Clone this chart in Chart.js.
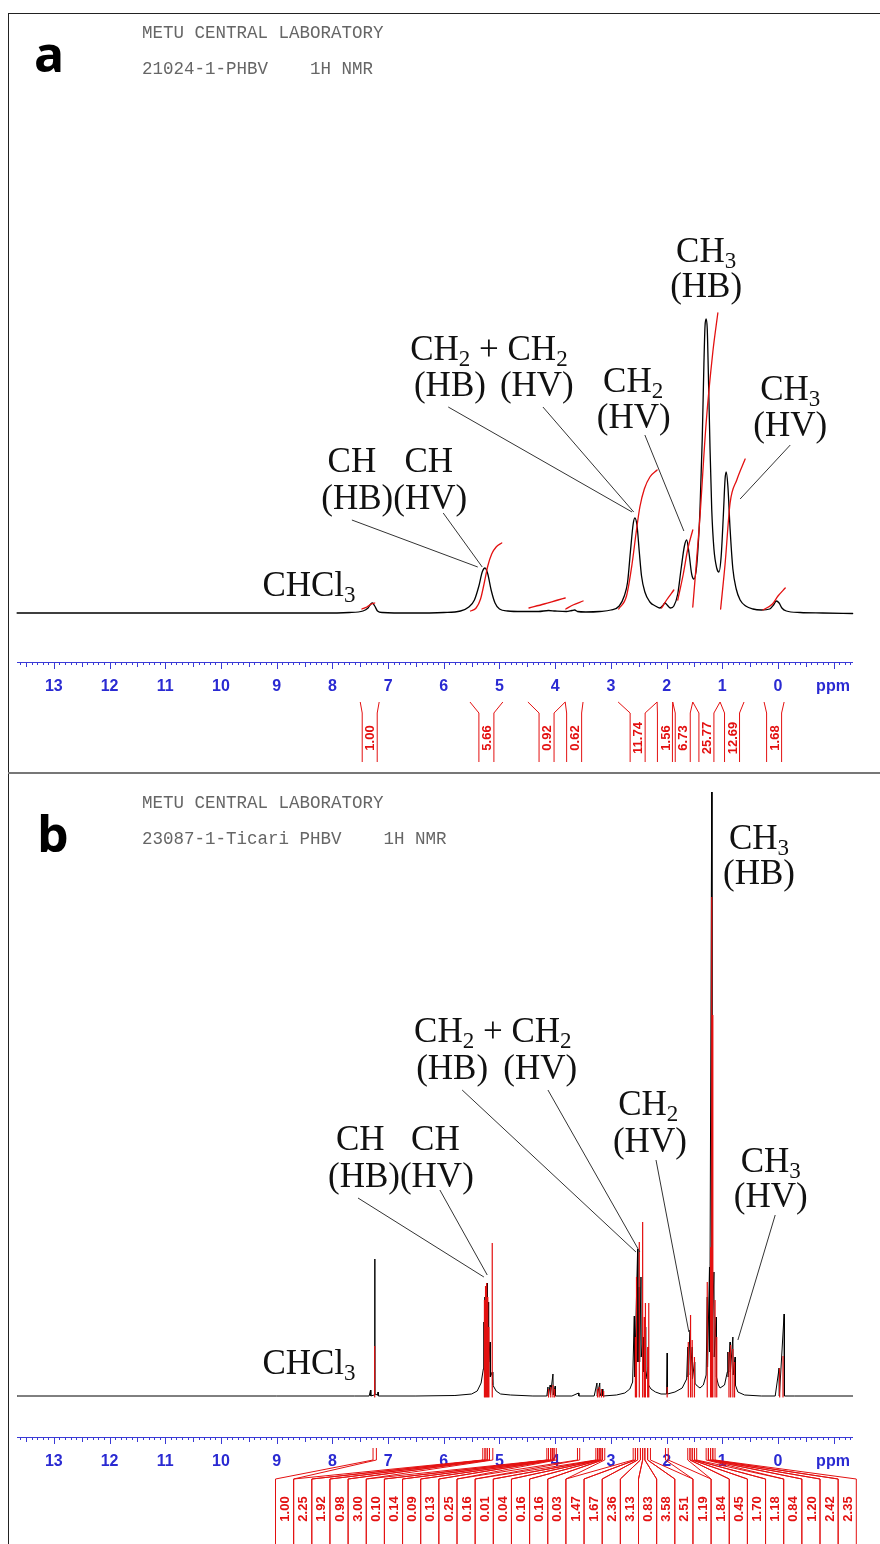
<!DOCTYPE html>
<html>
<head>
<meta charset="utf-8">
<script src="https://cdn.jsdelivr.net/npm/chart.js@4.4.1/dist/chart.umd.min.js"></script>
<style>
  body { margin: 0; background: #fff; }
  #page { position: relative; width: 880px; height: 1544px; overflow: hidden; background: #fff; }
  canvas { position: absolute; left: 0; }
  #specA { top: 0; }
  #specB { top: 775px; }
  .rule { position: absolute; background: #222; z-index: 5; }
</style>
</head>
<body>
<div id="page">
  <canvas id="specA" width="880" height="772"></canvas>
  <canvas id="specB" width="880" height="769"></canvas>
  <div class="rule" style="left:8px;top:13px;width:872px;height:1px;"></div>
  <div class="rule" style="left:8px;top:13px;width:1px;height:1531px;"></div>
  <div class="rule" style="left:8px;top:772px;width:872px;height:2px;background:#777;"></div>
</div>
<script>
// ---------- spectrum a (ppm, intensity) ----------
var specA = [
  [13.66,1],[12,1],[10,1],[8.2,1],[7.7,1.5],[7.45,3],[7.36,6],[7.31,10],[7.28,11],[7.24,8],[7.19,3],[7.1,1.5],
  [6.6,1],[6.0,1.5],[5.7,3],[5.55,7],[5.45,14],[5.37,28],[5.31,42],[5.26,46],[5.21,40],[5.15,24],[5.08,11],[5.0,5],
  [4.85,3],[4.6,2.5],[4.3,2.5],[4.12,3.5],[4.0,3],[3.8,2.5],[3.7,3.5],[3.65,4],[3.6,2.5],[3.45,2],[3.2,2.5],[3.0,4],
  [2.85,8],[2.76,18],[2.70,32],[2.65,62],[2.60,90],[2.57,96],[2.53,88],[2.49,62],[2.45,38],[2.39,22],[2.30,12],[2.20,8],
  [2.12,6],[2.06,9],[2.03,11],[1.99,9],[1.93,6],[1.87,8],[1.80,20],[1.74,45],[1.68,68],[1.64,74],[1.60,62],[1.55,40],
  [1.51,35],[1.46,48],[1.40,105],[1.36,175],[1.33,250],[1.31,288],[1.29,295],[1.27,285],[1.25,240],[1.22,165],[1.19,105],
  [1.15,65],[1.10,46],[1.06,42],[1.02,58],[0.98,100],[0.95,135],[0.93,142],[0.90,128],[0.86,85],[0.81,45],[0.75,25],
  [0.68,14],[0.58,8],[0.45,5],[0.30,4],[0.15,5],[0.08,9],[0.03,13],[-0.02,11],[-0.07,6],[-0.15,3],[-0.4,1.5],[-0.8,1],[-1.34,0.5]
];

// integral traces a
var integA1 = [[7.47,5],[7.38,7],[7.30,10],[7.24,11]];
var integA2 = [[5.52,3],[5.42,6],[5.34,15],[5.27,32],[5.21,48],[5.14,60],[5.06,67],[4.96,71]];
var integA3 = [[4.47,6],[4.2,10],[3.95,14],[3.82,16]];
var integA4 = [[3.81,5],[3.68,9],[3.50,13]];
var integA5 = [[2.86,5],[2.72,18],[2.62,50],[2.55,80],[2.48,107],[2.40,125],[2.30,137],[2.17,144]];
var integA6 = [[2.09,6],[2.0,14],[1.87,24]];
var integA7 = [[1.80,14],[1.70,40],[1.62,65],[1.53,84]];
var integA8 = [[1.53,7],[1.41,90],[1.29,191],[1.17,262],[1.08,301]];
var integA9 = [[1.03,5],[0.95,50],[0.86,111],[0.74,134],[0.59,155]];
var integA10 = [[0.27,4],[0.1,10],[0.0,18],[-0.13,26]];

var intLabelsA = ['1.00','5.66','0.92','0.62','11.74','1.56','6.73','25.77','12.69','1.68'];
var intRangesA = [[7.50,7.16],[5.53,4.94],[4.49,3.82],[3.82,3.50],[2.87,2.17],[2.17,1.89],[1.89,1.53],[1.53,1.04],[1.04,0.61],[0.25,-0.11]];

// ---------- spectrum b ----------
var specB = [
  [13.66,1],[9,1],[7.6,1],[7.34,1],[7.315,7],[7.31,1],[7.25,2],[7.24,138],[7.235,3],[7.19,2],[7.18,5],[7.175,1],[6.5,1],
  [5.8,1.5],[5.5,3],[5.40,6],[5.33,14],[5.29,28],[5.28,75],[5.275,28],[5.26,100],[5.255,40],[5.24,110],[5.235,45],
  [5.22,114],[5.215,45],[5.20,95],[5.195,35],[5.17,55],[5.165,20],[5.13,25],[5.12,12],[5.06,6],[4.98,3],[4.8,2],[4.4,1],
  [4.15,1],[4.13,10],[4.125,1],[4.09,12],[4.085,2],[4.04,23],[4.035,2],[4.00,11],[3.995,1],[3.7,1],[3.58,4],[3.575,1],
  [3.30,1],[3.25,14],[3.245,1],[3.20,14],[3.195,1],[3.15,8],[3.145,1],[2.9,2],[2.75,4],[2.66,8],[2.61,15],[2.58,81],
  [2.575,20],[2.52,148],[2.515,35],[2.49,110],[2.485,35],[2.46,120],[2.455,40],[2.42,60],[2.415,25],[2.38,70],[2.375,18],
  [2.33,30],[2.325,12],[2.28,8],[2.2,5],[2.1,3],[2.0,3],[1.99,44],[1.985,3],[1.85,5],[1.72,9],[1.64,18],[1.62,50],
  [1.615,20],[1.58,67],[1.575,22],[1.54,50],[1.535,18],[1.50,35],[1.495,14],[1.45,11],[1.40,9],[1.34,12],[1.29,22],
  [1.27,100],[1.265,30],[1.23,130],[1.225,45],[1.19,605],[1.185,60],[1.15,125],[1.145,40],[1.11,80],[1.105,20],[1.07,12],
  [1.04,9],[0.96,12],[0.91,25],[0.90,45],[0.895,20],[0.86,55],[0.855,25],[0.81,60],[0.805,22],[0.77,40],[0.765,12],
  [0.72,5],[0.6,2],[0.3,1],[0.05,1],[-0.02,29],[-0.025,1],[-0.11,83],[-0.115,1],[-0.3,1],[-1.34,1]
];

// red overlay lines b (ppm, height)
var sticksB = [
  [7.24,51],
  [5.27,97],[5.25,111],[5.23,114],[5.21,100],[5.19,70],[5.13,154],
  [4.12,8],[4.08,10],[4.04,12],[4.01,8],
  [3.24,8],[3.21,10],[3.17,8],[3.13,6],
  [2.56,60],[2.54,120],[2.49,155],[2.43,175],[2.40,80],[2.38,94],[2.34,50],[2.32,94],
  [1.99,10],
  [1.61,55],[1.57,82],[1.54,57],[1.50,40],
  [1.27,115],[1.21,150],[1.19,500],[1.17,382],[1.13,97],[1.10,60],
  [0.88,45],[0.85,52],[0.81,48],[0.78,35],
  [-0.03,29],[-0.09,41]
];

var intLabelsB = ['1.00','2.25','1.92','0.98','3.00','0.10','0.14','0.09','0.13','0.25','0.16','0.01','0.04','0.16','0.16','0.03',
  '1.47','1.67','2.36','3.13','0.83','3.58','2.51','1.19','1.84','0.45','1.70','1.18','0.84','1.20','2.42','2.35'];
var intRangesB = [[7.27,7.21],
  [5.30,5.26],[5.26,5.22],[5.22,5.18],[5.18,5.12],
  [4.15,4.12],[4.12,4.08],[4.08,4.05],[4.05,4.02],[4.02,3.98],
  [3.60,3.56],
  [3.27,3.24],[3.24,3.21],[3.21,3.18],[3.18,3.15],[3.15,3.11],
  [2.60,2.56],[2.56,2.52],[2.52,2.47],[2.47,2.43],[2.43,2.39],[2.39,2.34],[2.34,2.29],
  [2.02,1.97],
  [1.62,1.58],[1.58,1.54],[1.54,1.50],[1.50,1.46],
  [1.29,1.25],[1.25,1.21],[1.21,1.17],[1.17,1.13]];

var tickPpm = [0,1,2,3,4,5,6,7,8,9,10,11,12,13];

var BLUE = '#2a2ad2';
var RED = '#e31010';
var INK = '#111';

// peak labels, in (ppm, intensity) of each panel
var notesA = [
  ['CH_3', 1.29, 364], ['(HB)', 1.29, 329],
  ['CH_2 + CH_2', 5.19, 266], ['(HB)', 5.89, 230], ['(HV)', 4.33, 230],
  ['CH_2', 2.60, 234], ['(HV)', 2.59, 198],
  ['CH_3', -0.22, 226], ['(HV)', -0.22, 190],
  ['CH', 7.65, 154], ['CH', 6.27, 154], ['(HB)(HV)', 6.89, 117],
  ['CHCl_3', 8.42, 30]
];
var leadersA = [
  [7.65,94,5.39,47], [6.01,101,5.31,47],
  [5.92,207,2.62,102], [4.22,207,2.59,102],
  [2.39,179,1.69,83], [-0.22,169,0.68,115]
];
var notesB = [
  ['CH_3', 0.34, 560], ['(HB)', 0.34, 525],
  ['CH_2 + CH_2', 5.12, 367], ['(HB)', 5.85, 330], ['(HV)', 4.27, 330],
  ['CH_2', 2.33, 294], ['(HV)', 2.30, 257],
  ['CH_3', 0.13, 237], ['(HV)', 0.13, 202],
  ['CH', 7.50, 259], ['CH', 6.15, 259], ['(HB)(HV)', 6.77, 222],
  ['CHCl_3', 8.42, 35]
];
var leadersB = [
  [7.54,199,5.28,120], [6.07,207,5.22,122],
  [5.67,307,2.55,145], [4.13,307,2.48,145],
  [2.19,237,1.60,65], [0.05,182,0.72,57]
];

function pts(arr) {
  return arr.map(function (p) { return { x: p[0], y: p[1] }; });
}

function stickPts(arr) {
  var out = [];
  arr.forEach(function (s) {
    out.push({ x: s[0], y: 0 }, { x: s[0], y: s[1] }, { x: s[0], y: 0 }, { x: s[0], y: null });
  });
  return out;
}

function chem(ctx, s, cx, cy) {
  var big = '35px "Liberation Serif"', small = '23px "Liberation Serif"';
  var parts = [];
  for (var i = 0; i < s.length; i++) {
    if (s[i] === '_') { parts.push([s[i + 1], true]); i++; }
    else if (parts.length && !parts[parts.length - 1][1]) parts[parts.length - 1][0] += s[i];
    else parts.push([s[i], false]);
  }
  var w = 0;
  parts.forEach(function (p) { ctx.font = p[1] ? small : big; w += ctx.measureText(p[0]).width; });
  var x = cx - w / 2;
  ctx.textAlign = 'left';
  ctx.textBaseline = 'alphabetic';
  parts.forEach(function (p) {
    ctx.font = p[1] ? small : big;
    ctx.fillText(p[0], x, cy + 12 + (p[1] ? 6 : 0));
    x += ctx.measureText(p[0]).width;
  });
}

function drawRuler(ctx, xs, y0) {
  ctx.save();
  ctx.strokeStyle = '#3a3ad6';
  ctx.lineWidth = 1;
  ctx.beginPath();
  ctx.moveTo(xs.left, y0 + 0.5);
  ctx.lineTo(xs.right, y0 + 0.5);
  for (var k = -13; k <= 136; k++) {
    var x = Math.round(xs.getPixelForValue(k / 10)) + 0.5;
    var len = k % 10 === 0 ? 7 : (k % 5 === 0 ? 5 : 3);
    ctx.moveTo(x, y0);
    ctx.lineTo(x, y0 + len);
  }
  ctx.stroke();
  ctx.fillStyle = BLUE;
  ctx.font = 'bold 16px "Liberation Sans"';
  ctx.textAlign = 'center';
  ctx.textBaseline = 'middle';
  tickPpm.forEach(function (p) { ctx.fillText(String(p), xs.getPixelForValue(p), y0 + 25); });
  ctx.fillText('ppm', 833, y0 + 25);
  ctx.restore();
}

function rotLabel(ctx, txt, x, y) {
  ctx.save();
  ctx.translate(x, y);
  ctx.rotate(-Math.PI / 2);
  ctx.fillStyle = RED;
  ctx.font = 'bold 13px "Liberation Sans"';
  ctx.textAlign = 'center';
  ctx.textBaseline = 'middle';
  ctx.fillText(txt, 0, 1);
  ctx.restore();
}

function drawNotes(chart, notes, leaders) {
  var ctx = chart.ctx, xs = chart.scales.x, ys = chart.scales.y;
  ctx.save();
  ctx.fillStyle = INK;
  notes.forEach(function (n) { chem(ctx, n[0], xs.getPixelForValue(n[1]), ys.getPixelForValue(n[2])); });
  ctx.strokeStyle = '#333';
  ctx.lineWidth = 1;
  ctx.beginPath();
  leaders.forEach(function (l) {
    ctx.moveTo(xs.getPixelForValue(l[0]), ys.getPixelForValue(l[1]));
    ctx.lineTo(xs.getPixelForValue(l[2]), ys.getPixelForValue(l[3]));
  });
  ctx.stroke();
  ctx.restore();
}

function header(ctx, line2, letter, base, lx, ly) {
  ctx.save();
  ctx.fillStyle = '#666';
  ctx.font = '17.5px "Liberation Mono"';
  ctx.textAlign = 'left';
  ctx.textBaseline = 'alphabetic';
  ctx.fillText('METU CENTRAL LABORATORY', 142, base);
  ctx.fillText(line2, 142, base + 36);
  ctx.fillStyle = '#000';
  ctx.font = 'bold 50px "Open Sans"';
  ctx.fillText(letter, lx, ly);
  ctx.restore();
}

var decoA = {
  id: 'decoA',
  afterDraw: function (chart) {
    var ctx = chart.ctx, xs = chart.scales.x;
    header(ctx, '21024-1-PHBV    1H NMR', 'a', 38, 34, 72);
    drawNotes(chart, notesA, leadersA);
    drawRuler(ctx, xs, 662);
    ctx.save();
    ctx.strokeStyle = RED;
    ctx.lineWidth = 1;
    intRangesA.forEach(function (r, i) {
      var xa = xs.getPixelForValue(r[0]), xb = xs.getPixelForValue(r[1]);
      var c = (xa + xb) / 2, h = Math.min(7.5, (xb - xa) / 2);
      ctx.beginPath();
      ctx.moveTo(xa, 702); ctx.lineTo(c - h, 713); ctx.lineTo(c - h, 762);
      ctx.moveTo(xb, 702); ctx.lineTo(c + h, 713); ctx.lineTo(c + h, 762);
      ctx.stroke();
      rotLabel(ctx, intLabelsA[i], c, 738);
    });
    ctx.restore();
  }
};

var decoB = {
  id: 'decoB',
  afterDraw: function (chart) {
    var ctx = chart.ctx, xs = chart.scales.x;
    header(ctx, '23087-1-Ticari PHBV    1H NMR', 'b', 33, 37, 77);
    drawNotes(chart, notesB, leadersB);
    drawRuler(ctx, xs, 662);
    ctx.save();
    ctx.strokeStyle = RED;
    ctx.lineWidth = 1;
    var step = 18.15, x0 = 275.5;
    intRangesB.forEach(function (r, i) {
      var xa = xs.getPixelForValue(r[0]), xb = xs.getPixelForValue(r[1]);
      var l = x0 + step * i, rr = l + step;
      ctx.beginPath();
      ctx.moveTo(xa, 673); ctx.lineTo(xa, 685); ctx.lineTo(l, 704); ctx.lineTo(l, 769);
      ctx.moveTo(xb, 673); ctx.lineTo(xb, 685); ctx.lineTo(rr, 704); ctx.lineTo(rr, 769);
      ctx.stroke();
      rotLabel(ctx, intLabelsB[i], (l + rr) / 2, 734);
    });
    ctx.restore();
  }
};

function baseOptions(yMax, pad) {
  return {
    responsive: false,
    animation: false,
    devicePixelRatio: 1,
    layout: { padding: pad },
    elements: { point: { radius: 0 }, line: { borderCapStyle: 'round' } },
    plugins: { legend: { display: false }, tooltip: { enabled: false } },
    scales: {
      x: { type: 'linear', min: -1.3465, max: 13.662, reverse: true, display: false },
      y: { min: 0, max: yMax, display: false }
    }
  };
}

var integralsA = [integA1, integA2, integA3, integA4, integA5, integA6, integA7, integA8, integA9, integA10];
var dsA = [{
  data: pts(specA), borderColor: '#000', borderWidth: 1.3, cubicInterpolationMode: 'monotone', clip: false, order: 2
}];
integralsA.forEach(function (seg) {
  dsA.push({ data: pts(seg), borderColor: RED, borderWidth: 1.3, cubicInterpolationMode: 'monotone', clip: false, order: 1 });
});

new Chart(document.getElementById('specA'), {
  type: 'line',
  data: { datasets: dsA },
  options: baseOptions(310, { left: 17, right: 27, top: 304, bottom: 158 }),
  plugins: [decoA]
});

new Chart(document.getElementById('specB'), {
  type: 'line',
  data: {
    datasets: [
      { data: stickPts(sticksB), borderColor: RED, borderWidth: 1.2, tension: 0, spanGaps: false, clip: false, order: 1 },
      { data: pts(specB), borderColor: '#000', borderWidth: 1, tension: 0, clip: false, order: 2 }
    ]
  },
  options: baseOptions(609, { left: 17, right: 27, top: 13, bottom: 147 }),
  plugins: [decoB]
});
</script>
</body>
</html>
